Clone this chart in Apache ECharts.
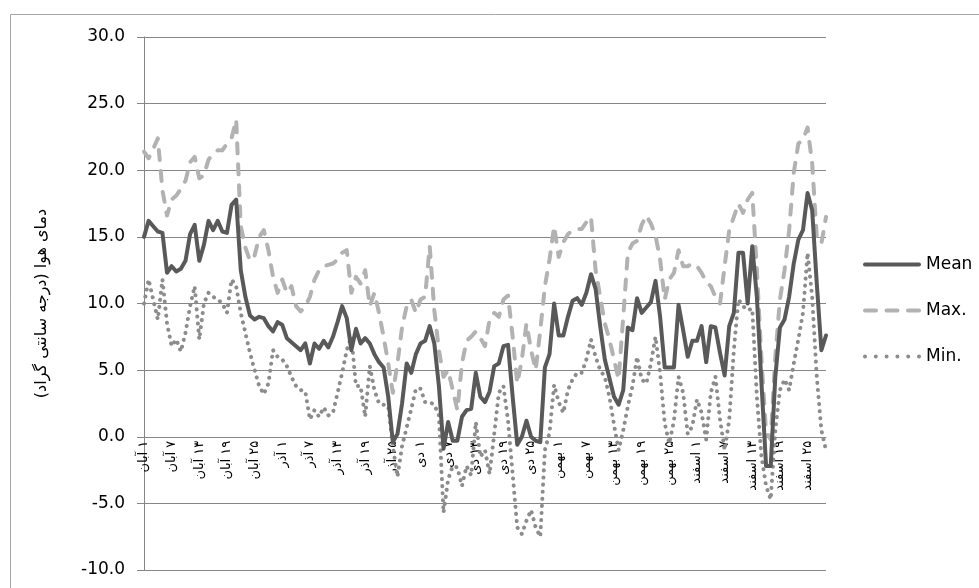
<!DOCTYPE html>
<html><head><meta charset="utf-8">
<script src="https://cdn.jsdelivr.net/npm/echarts@6/dist/echarts.min.js"></script>
<style>html,body{margin:0;padding:0;background:#fff}#c{width:979px;height:588px}</style>
</head><body><div id="c"></div>
<script>
// Persian months (Aban .. Esfand) and their day counts
const months = ['آبان', 'آذر', 'دی', 'بهمن', 'اسفند'];
const monthDays = [30, 30, 30, 30, 29];
const yAxisTitle = 'دمای هوا (درجه سانتی گراد)';
const seriesNames = ['Mean', 'Max.', 'Min.'];
const yMin = -10, yMax = 30, yStep = 5;

const meanTemp = [
  15.0, 16.2, 15.8, 15.4, 15.3, 12.3, 12.8, 12.4, 12.6, 13.2,
  15.2, 15.9, 13.2, 14.4, 16.2, 15.5, 16.2, 15.4, 15.3, 17.4,
  17.8, 12.5, 10.5, 9.1, 8.8, 9.0, 8.9, 8.3, 7.9, 8.6,
  8.4, 7.4, 7.1, 6.8, 6.5, 7.0, 5.5, 7.0, 6.6, 7.2,
  6.7, 7.5, 8.6, 9.8, 8.9, 6.5, 8.1, 7.0, 7.4, 7.0,
  6.2, 5.6, 5.2, 3.0, -0.4, 0.2, 2.5, 5.5, 4.8, 6.2,
  7.0, 7.2, 8.3, 7.0, 3.8, -0.9, 1.1, -0.3, -0.3, 1.5,
  2.0, 2.1, 4.8, 3.0, 2.6, 3.4, 5.3, 5.5, 6.8, 6.9,
  3.0, -0.6, 0.0, 1.2, 0.0, -0.3, -0.4, 5.2, 6.2, 10.0,
  7.6, 7.6, 9.0, 10.2, 10.4, 9.9, 10.8, 12.2, 11.1, 8.3,
  5.8, 4.4, 3.0, 2.4, 3.5, 8.2, 8.0, 10.4, 9.3, 9.7,
  10.1, 11.7, 9.0, 5.2, 5.2, 5.2, 9.9, 8.0, 6.0, 7.2,
  7.2, 8.3, 5.6, 8.3, 8.2, 6.3, 4.6, 8.3, 9.3, 13.8,
  13.8, 10.0, 14.3, 10.5, 4.0, -2.2, -2.2, 4.5, 8.2, 8.8,
  10.5, 13.0, 14.8, 15.5, 18.3, 17.0, 11.5, 6.5, 7.6
];
const maxTemp = [
  21.4, 20.9, 21.6, 22.4, 18.5, 16.6, 17.8, 18.1, 18.6, 19.2,
  20.6, 21.0, 19.4, 19.6, 20.8, 21.2, 21.5, 21.5, 22.0, 22.4,
  23.8, 15.8, 14.2, 13.2, 13.6, 15.0, 15.5, 14.0, 12.0, 10.8,
  11.8, 10.8, 11.3, 9.8, 9.4, 9.8, 10.5, 11.8, 12.5, 12.8,
  12.9, 13.0, 13.3, 13.8, 14.0, 10.8, 12.0, 11.5, 12.5, 9.8,
  10.8, 9.3, 7.5, 5.5, 3.3, 5.5, 8.2, 9.8, 10.3, 9.3,
  10.3, 10.5, 14.3, 9.5, 6.5, 4.5, 5.0, 3.5, 2.0, 5.5,
  7.2, 7.5, 7.9, 7.4, 6.8, 8.8, 9.3, 9.0, 10.3, 10.6,
  7.5, 4.0, 5.8, 8.5, 6.5, 5.0, 8.0, 11.3, 13.3, 15.8,
  13.5, 14.6, 15.2, 15.5, 15.6, 15.6, 16.1, 16.5, 12.5, 10.5,
  8.5, 7.3, 5.8, 4.3, 9.0, 13.8, 14.5, 14.7, 15.9, 16.6,
  16.0, 15.1, 13.3, 10.3, 11.8, 12.3, 14.0, 12.8, 12.8, 13.0,
  12.8, 12.3, 11.6, 11.3, 10.5, 10.0, 12.8, 15.5, 16.5, 17.5,
  16.8, 17.8, 18.3, 12.5, 5.8, 0.3, -0.2, 6.0, 10.3, 12.5,
  15.5, 19.8, 22.0, 22.3, 23.2, 20.5, 15.0, 14.5, 16.5
];
const minTemp = [
  10.0, 11.8, 10.3, 8.8, 11.8, 8.5, 6.8, 7.3, 6.4, 7.8,
  9.8, 11.3, 7.3, 10.0, 10.8, 10.5, 10.3, 10.0, 9.3, 11.8,
  11.3, 9.3, 7.8, 6.3, 5.0, 3.8, 3.2, 4.0, 6.5, 6.0,
  5.8, 5.3, 4.5, 3.8, 3.5, 3.4, 1.3, 2.0, 1.5, 2.2,
  1.6, 1.8, 3.3, 4.8, 6.5, 7.5, 3.8, 3.8, 1.5, 5.3,
  3.5, 2.5, 2.4, 2.3, -0.7, -3.0, -0.7, 0.7, 2.1, 3.6,
  3.6, 2.6, 2.6, 2.4, 1.6, -5.7, -3.2, -2.2, -2.3, -3.7,
  -2.2, -2.9, 1.1, -1.5, -1.0, -2.8, 0.2, 3.3, 3.8, 1.2,
  -2.8, -6.8, -7.3, -6.3, -5.5, -6.8, -7.5, -1.0, 0.3, 3.9,
  2.6, 1.8, 3.5, 4.3, 4.8, 4.8, 5.8, 7.3, 6.0, 5.0,
  4.5, 3.0, 0.9, -1.0, 0.5, 2.3, 3.8, 6.0, 4.3, 4.0,
  5.5, 7.5, 4.8, 1.0, -0.5, 1.2, 4.5, 3.3, 0.2, 0.8,
  2.8, 1.8, -0.2, 3.3, 4.5, 1.3, -1.0, 1.3, 6.5, 10.3,
  9.8, 9.5, 9.6, 3.0, -1.5, -3.7, -4.7, 0.5, 3.5, 4.3,
  3.5, 5.5, 7.3, 9.3, 13.8, 10.5, 4.5, 0.5, -1.0
];

const faDigits = '۰۱۲۳۴۵۶۷۸۹';
function toFa(n) { return String(n).replace(/[0-9]/g, d => faDigits[+d]); }
const RLE = '\u202B', PDF = '\u202C';
const categories = [];
months.forEach((m, k) => {
  for (let d = 1; d <= monthDays[k]; d++) categories.push(RLE + toFa(d) + ' ' + m + PDF);
});

// legend icons (solid bar, rounded dashes, dots)
function roundBar(x, w) { return 'M' + (x + 2) + ',0h' + (w - 4) + 'a2,2 0 0 1 0,4h-' + (w - 4) + 'a2,2 0 0 1 0,-4z'; }
function dot(x) { return 'M' + x + ',2a2,2 0 1 0 4,0a2,2 0 1 0 -4,0z'; }
const iconSolid = 'path://' + roundBar(0, 58);
const iconDash = 'path://' + roundBar(0, 15) + roundBar(21.5, 15) + roundBar(43, 15);
const iconDot = 'path://' + [0, 10.8, 21.6, 32.4, 43.2, 54].map(dot).join('');

// layout
const W = 979, H = 588;
const gridTop = 37, gridBottom = 18;
const plotH = H - gridTop - gridBottom;
// category axis sits on the zero line (axis crosses at 0)
const zeroOffset = -plotH * (0 - yMin) / (yMax - yMin);

const FONT = 'DejaVu Sans';
const chart = echarts.init(document.getElementById('c'), null, { renderer: 'canvas' });
chart.setOption({
  animation: false,
  backgroundColor: '#ffffff',
  textStyle: { fontFamily: FONT },
  graphic: [{
    type: 'rect', left: 8, top: 12, silent: true,
    shape: { x: 0.5, y: 0.5, width: 1000, height: 1000 },
    style: { fill: 'none', stroke: '#a6a6a6', lineWidth: 1 }
  }],
  grid: { left: 144, right: 153, top: gridTop, bottom: gridBottom, containLabel: false, outerBoundsMode: 'none' },
  legend: {
    orient: 'vertical', left: 858, top: 251,
    itemWidth: 58, itemHeight: 4, itemGap: 29,
    itemStyle: { borderWidth: 0 },
    textStyle: { fontFamily: FONT, fontSize: 17, color: '#000' },
    data: [
      { name: seriesNames[0], icon: iconSolid },
      { name: seriesNames[1], icon: iconDash },
      { name: seriesNames[2], icon: iconDot }
    ]
  },
  xAxis: {
    type: 'category', data: categories, boundaryGap: false, position: 'bottom',
    offset: zeroOffset,
    axisLine: { show: true, onZero: false, lineStyle: { color: '#868686', width: 1 } },
    axisTick: { show: false },
    axisLabel: { interval: 5, rotate: 90, margin: 4, fontFamily: FONT, fontSize: 13, color: '#000' },
    splitLine: { show: false }
  },
  yAxis: {
    type: 'value', min: yMin, max: yMax, interval: yStep,
    name: RLE + yAxisTitle + PDF, nameLocation: 'middle', nameGap: 94, nameRotate: 90,
    nameTextStyle: { fontFamily: FONT, fontSize: 16, color: '#000' },
    axisLine: { show: true, onZero: false, lineStyle: { color: '#868686', width: 1 } },
    axisTick: { show: true, length: 7, lineStyle: { color: '#868686' } },
    axisLabel: { formatter: v => v.toFixed(1), margin: 19, fontFamily: FONT, fontSize: 17, color: '#000' },
    splitLine: { show: true, lineStyle: { color: '#868686', width: 1 } }
  },
  series: [
    { name: seriesNames[0], type: 'line', data: meanTemp, symbol: 'none', z: 3,
      lineStyle: { color: '#595959', width: 4, join: 'round', cap: 'round' }, itemStyle: { color: '#595959' } },
    { name: seriesNames[1], type: 'line', data: maxTemp, symbol: 'none', z: 2,
      lineStyle: { color: '#b2b2b2', width: 4, type: [10, 11], cap: 'round', join: 'round' }, itemStyle: { color: '#b2b2b2' } },
    { name: seriesNames[2], type: 'line', data: minTemp, symbol: 'none', z: 2,
      lineStyle: { color: '#8c8c8c', width: 4, type: [0.1, 7], cap: 'round', join: 'round' }, itemStyle: { color: '#8c8c8c' } }
  ]
});
</script></body></html>
